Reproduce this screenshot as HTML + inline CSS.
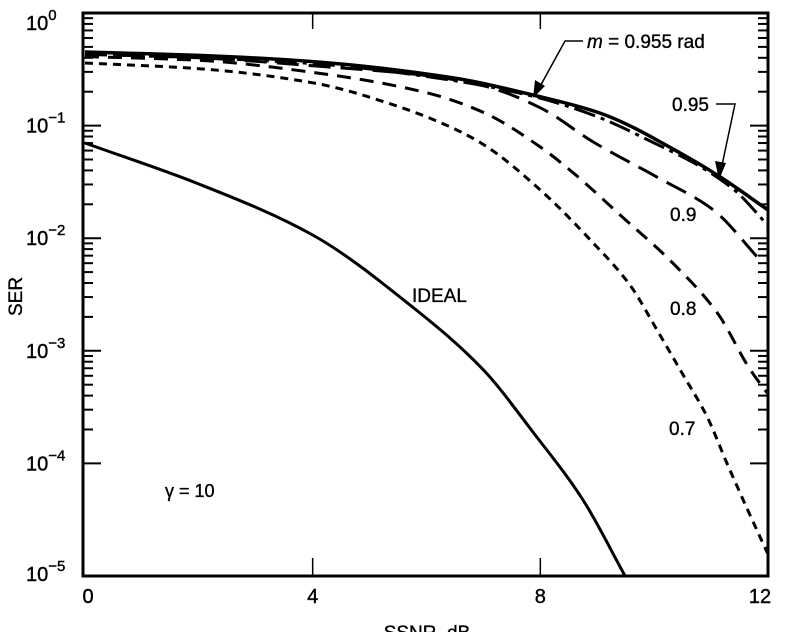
<!DOCTYPE html>
<html><head><meta charset="utf-8"><style>
html,body{margin:0;padding:0;background:#fff;}
svg{display:block;font-family:"Liberation Sans",sans-serif;}
</style></head><body>
<svg id="chart" width="796" height="632" viewBox="0 0 796 632"></svg>
<script>
const xTicks = [0, 4, 8, 12];
const yDecades = [0, -1, -2, -3, -4, -5];
const idealX = [0, 2, 4, 5.71, 7.0, 7.87, 8.75, 9.49];
const idealY = [0.07, 0.0303, 0.01067, 0.00255, 0.000676, 0.00019, 0.0000473, 0.00001];
const m955X = [0, 2, 4, 6.47, 7.87, 9.05, 10.58, 11.16, 12];
const m955Y = [0.45, 0.42, 0.37, 0.265, 0.187, 0.129, 0.0526, 0.035, 0.0178];
const m95X = [0, 4, 6.5, 8, 9, 10, 10.75, 11.4, 12];
const m95Y = [0.44, 0.355, 0.25, 0.175, 0.12, 0.07, 0.045, 0.027, 0.013];
const m9X = [0, 2, 4, 6, 7, 8, 8.93, 10.05, 11.04, 11.86];
const m9Y = [0.43, 0.4, 0.34, 0.278, 0.226, 0.144, 0.0715, 0.0349, 0.0178, 0.0064];
const m8X = [0, 2, 4, 6, 7, 8, 8.58, 9.4, 10.33, 11.11, 11.69, 11.99];
const m8Y = [0.41, 0.38, 0.297, 0.196, 0.131, 0.0646, 0.038, 0.0161, 0.006, 0.00217, 0.000676, 0.00042];
const m7X = [0, 2, 4, 5.5, 6.5, 7, 8, 8.88, 9.58, 10.05, 10.51, 10.93, 11.28, 11.63, 11.99];
const m7Y = [0.36, 0.32, 0.24, 0.148, 0.093, 0.068, 0.0268, 0.00964, 0.0038, 0.00153, 0.00061, 0.00026, 0.0001, 0.00004, 0.000016];

const svg = document.getElementById('chart');
const NS = 'http://www.w3.org/2000/svg';
const L = 83, R = 768, T = 13, B = 576;
const X0 = 85, XS = (768 - 85) / 12;
const sx = v => X0 + v * XS;
const sy = v => T + (-Math.log10(v)) * (B - T) / 5;
function mk(tag, attrs, parent) {
  const e = document.createElementNS(NS, tag);
  for (const k in attrs) e.setAttribute(k, attrs[k]);
  (parent || svg).appendChild(e);
  return e;
}
const frame = mk('rect', {x: L, y: T, width: R - L, height: B - T, fill: 'none', stroke: '#000', 'stroke-width': 3});


yDecades.forEach(d => {
  for (let k = 1; k < 10; k++) {
    const v = k * Math.pow(10, d);
    if (v > 1.0001 || (d === -5 && k > 1)) continue;
    const y = sy(v);
    const len = k === 1 ? 18 : 10;
    const t1 = mk('line', {x1: L, y1: y, x2: L + len, y2: y, stroke: '#000', 'stroke-width': 2});
    
    
    const t2 = mk('line', {x1: R, y1: y, x2: R - len, y2: y, stroke: '#000', 'stroke-width': 2});
    
    
  }
  const g = mk('text', {x: 26, y: sy(Math.pow(10, d)) + (d === 0 ? 17 : 7) - (d === -5 ? 2 : 0), 'font-size': 20, stroke: '#000', 'stroke-width': 0.4});
  
  
  g.textContent = '10';
  const sup = mk('tspan', {dy: -10, 'font-size': 15}, g);
  sup.textContent = d === 0 ? '0' : '\u2212' + (-d);
});
xTicks.forEach(v => {
  const x = sx(v);
  if (v > 0 && v < 12) {
    const a = mk('line', {x1: x, y1: B, x2: x, y2: B - 18, stroke: '#000', 'stroke-width': 1.5});
    
    
    const b = mk('line', {x1: x, y1: T, x2: x, y2: T + 16, stroke: '#000', 'stroke-width': 1.5});
    
    
  }
  const t = mk('text', {x: v === 0 ? 88 : (v === 12 ? 760 : x), y: 603, 'font-size': 20, 'text-anchor': 'middle', stroke: '#000', 'stroke-width': 0.4});
  
  
  t.textContent = v;
});
function series(xs, ys, dash, w, name) {
  const P = xs.map((x, i) => [sx(x), sy(ys[i])]);
  const n = P.length;
  const dx = [], m = [];
  for (let i = 0; i < n - 1; i++) { dx.push(P[i + 1][0] - P[i][0]); m.push((P[i + 1][1] - P[i][1]) / dx[i]); }
  const t = [m[0]];
  for (let i = 1; i < n - 1; i++) {
    if (m[i - 1] * m[i] <= 0) t.push(0);
    else { const w1 = 2 * dx[i] + dx[i - 1], w2 = dx[i] + 2 * dx[i - 1]; t.push((w1 + w2) / (w1 / m[i - 1] + w2 / m[i])); }
  }
  t.push(m[n - 2]);
  let d = 'M' + P[0][0].toFixed(1) + ' ' + P[0][1].toFixed(1);
  for (let i = 0; i < n - 1; i++) {
    const h = dx[i] / 3;
    d += ' C' + (P[i][0] + h).toFixed(1) + ' ' + (P[i][1] + t[i] * h).toFixed(1) + ' ' +
      (P[i + 1][0] - h).toFixed(1) + ' ' + (P[i + 1][1] - t[i + 1] * h).toFixed(1) + ' ' +
      P[i + 1][0].toFixed(1) + ' ' + P[i + 1][1].toFixed(1);
  }
  const p = mk('path', {d: d, fill: 'none', stroke: '#000', 'stroke-width': w, 'stroke-dasharray': dash, 'stroke-linejoin': 'round'});
  
  
}
series(idealX, idealY, 'none', 3, 'line-ideal');
series(m7X, m7Y, '8 6', 3, 'line-m-0-7');
series(m8X, m8Y, '14 9', 3, 'line-m-0-8');
series(m9X, m9Y, '22 10', 3, 'line-m-0-9');
series(m95X, m95Y, '22 6 4 6', 3, 'line-m-0-95');
series(m955X, m955Y, 'none', 3.5, 'line-m-0-955');
function label(x, y, txt, name, size) {
  const t = mk('text', {x: x, y: y, 'font-size': size || 19, stroke: '#000', 'stroke-width': 0.35});
  
  
  t.textContent = txt;
  return t;
}
const ml = mk('text', {x: 587, y: 48, 'font-size': 19, stroke: '#000', 'stroke-width': 0.35});


const it = mk('tspan', {'font-style': 'italic'}, ml); it.textContent = 'm';
const rest = mk('tspan', {}, ml); rest.textContent = ' = 0.955 rad';
const a1 = mk('path', {d: 'M583 41 L565 41 L537 92', fill: 'none', stroke: '#000', 'stroke-width': 1.5});


const h1 = mk('polygon', {points: '533,98 535,80 545,86', fill: '#000'});


label(672, 111, '0.95', 'label-m-0-95');
const a2 = mk('path', {d: 'M716 104 L735 104 L721 170', fill: 'none', stroke: '#000', 'stroke-width': 1.5});


const h2 = mk('polygon', {points: '719,180 715,161 726,163', fill: '#000'});


label(670, 221, '0.9', 'label-m-0-9');
label(670, 315, '0.8', 'label-m-0-8');
label(669, 435, '0.7', 'label-m-0-7');
label(412, 302, 'IDEAL', 'label-ideal');
label(165, 497, 'γ = 10', 'label-gamma', 18);
const yt = mk('text', {x: 0, y: 0, 'font-size': 19, stroke: '#000', 'stroke-width': 0.35, transform: 'translate(22,316) rotate(-90)'});


yt.textContent = 'SER';
const xt = mk('text', {x: 427, y: 639, 'font-size': 19, 'text-anchor': 'middle', stroke: '#000', 'stroke-width': 0.35});


xt.textContent = 'SSNR, dB';
</script>
</body></html>
